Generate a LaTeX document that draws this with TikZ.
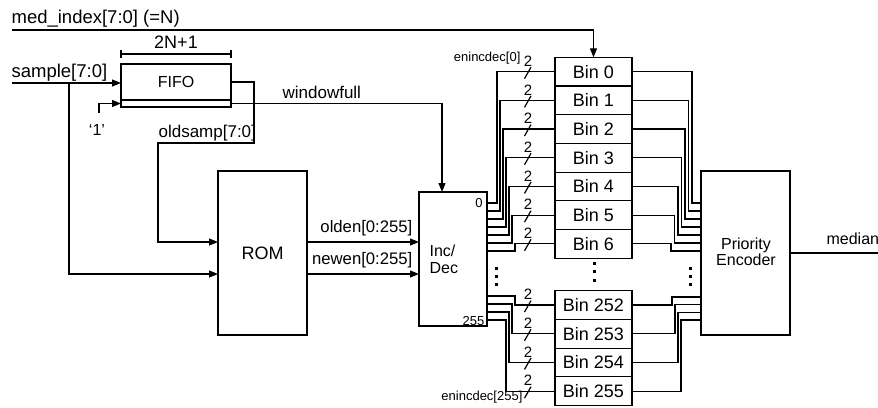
\documentclass[tikz,border=0pt]{standalone}
\usepackage{fontspec}
\setmainfont{Liberation Sans}
\usetikzlibrary{arrows.meta}
\newcommand{\myfs}[1]{\fontsize{#1}{#1}\selectfont}
\begin{document}
\begin{tikzpicture}[x=1pt,y=-1pt,line width=1.2pt,
  box/.style={draw,line width=1.2pt,inner sep=0pt,outer sep=0pt},
  bin/.style={box,minimum width=77pt,minimum height=28.7pt,font=\myfs{18}},
  arr/.style={-{Triangle[length=9pt,width=7pt]}},
  lbl/.style={inner sep=0pt,font=\myfs{17}},
  small/.style={inner sep=0pt,font=\myfs{13}}]
\useasboundingbox (0,0) rectangle (878,407);

% ---- blocks
\node[box,minimum width=110pt,minimum height=43pt] (fifo) at (176,85.5) {};
\node[lbl,anchor=base,font=\myfs{16}] (fifot) at (176,87) {FIFO};
\draw (fifo.west |- 0,100) -- (fifo.east |- 0,100);
\node[box,minimum width=89pt,minimum height=164pt,font=\myfs{18}] (rom) at (262.5,253) {ROM};
\node[box,minimum width=68pt,minimum height=134pt] (incdec) at (453,259) {};
\node[lbl,anchor=base west,font=\myfs{16}] (inct) at (429,256) {Inc/};
\node[lbl,anchor=base west,font=\myfs{16}] (dect) at (429,273) {Dec};
\node[box,minimum width=89pt,minimum height=164pt] (pe) at (745.5,253) {};
\node[lbl,anchor=base,font=\myfs{16}] (pet1) at (746,249) {Priority};
\node[lbl,anchor=base,font=\myfs{16}] (pet2) at (746,265) {Encoder};

\foreach \i/\y in {0/71.65,1/100.35,2/129.05,3/157.75,4/186.45,5/215.15,6/243.85,252/305.05,253/333.75,254/362.45,255/391.15}
  \node[bin] (bin\i) at (593.5,\y) {Bin \i};

% ---- top labels and lines
\node[lbl,anchor=base west,font=\myfs{18.5}] (midx) at (11,23.5) {med\_index[7:0] (=N)};
\coordinate (mi) at (12,30);
\draw[arr] (mi) -| (bin0.north);

\coordinate (wl) at (121,54);
\coordinate (wr) at (231,54);
\draw (wl) -- (wr);
\draw (121,50) -- (121,58);
\draw (231,50) -- (231,58);
\node[lbl,anchor=base,font=\myfs{18}] (wtxt) at (176,48) {2N+1};

\node[lbl,anchor=base west,font=\myfs{18.5}] (samp) at (11,77) {sample[7:0]};
\coordinate (si) at (12,83);
\coordinate (sj) at (69,83);
\draw[arr] (si) -- (fifo.west |- si);
\draw[arr] (sj) |- (rom.west |- 0,274);

\coordinate (one) at (99,113);
\draw[arr] (one) |- (fifo.west |- 0,103.5);
\node[lbl,font=\myfs{16}] (onet) at (97,130) {‘1’};

\draw[arr] (fifo.east |- 0,82) -- (254,82) -- (254,143) -- (158,143) |- (rom.west |- 0,242);
\node[lbl,anchor=base west] (olds) at (158,137) {oldsamp[7:0]};

\draw[arr] (fifo.east |- 0,103.5) -| (442,0 |- incdec.north);
\node[lbl,anchor=base west] (wf) at (282,98) {windowfull};

\draw[arr] (rom.east |- 0,242) -- (incdec.west |- 0,242);
\draw[arr] (rom.east |- 0,274) -- (incdec.west |- 0,274);
\node[lbl,anchor=base east,font=\myfs{16.7}] (oldt) at (413,232) {olden[0:255]};
\node[lbl,anchor=base east,font=\myfs{16.7}] (newt) at (413,264) {newen[0:255]};

\node[small] (z0) at (479,203.5) {0};
\node[small] (z255) at (473.5,321.5) {255};
\node[small,anchor=east] (en0) at (521,58) {enincdec[0]};
\node[small,anchor=east] (en255) at (523,397) {enincdec[255]};

% ---- Inc/Dec -> bins
\foreach \i/\oy/\vx in {0/203/497,1/211/500,2/219/503,3/227/506,4/235/509,5/243/512,6/251/515,252/296/515,253/304/512,254/312/509,255/320/506}
  \draw (incdec.east |- 0,\oy) -- (\vx,\oy) |- (bin\i.west);

\foreach \i/\y in {0/71.65,1/100.35,2/129.05,3/157.75,4/186.45,5/215.15,6/243.85,252/305.05,253/333.75,254/362.45,255/391.15} {
  \draw[line width=1.2pt] (524.5,\y+7) -- (531,\y-4.5);
  \node[inner sep=0pt,font=\myfs{15}] (tw\i) at (528,\y-10.5) {2};
}

% ---- bins -> priority encoder
\foreach \i/\px/\py in {0/692/203,1/688.5/211,2/685/219,3/681.5/227,4/678/235,5/674.5/243,6/671/251,252/672/297,253/675/304.7,254/678/312.3,255/681/320}
  \draw (bin\i.east) -| (\px,\py) -- (pe.west |- 0,\py);

\coordinate (medout) at (878,253);
\draw (pe.east |- medout) -- (medout);
\node[lbl,anchor=base west,font=\myfs{16}] (medt) at (826,244) {median};

% ---- dots
\foreach \x/\y in {496/268,496/276,496/284,594.3/263,594.3/271.5,594.3/280,690.7/268,690.7/276,690.7/284}
  \fill (\x-1.5,\y-1.5) rectangle ++(3,3);
\end{tikzpicture}
\end{document}
